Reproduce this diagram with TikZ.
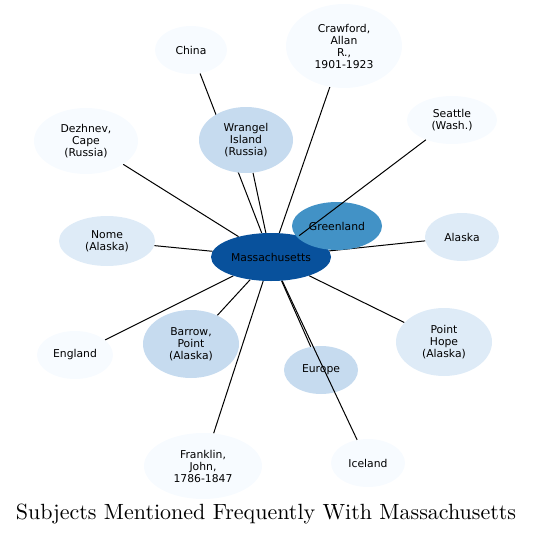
\documentclass[tikz,border=0pt]{standalone}
\usepackage{fontspec}
\setsansfont{DejaVu Sans}
\newfontfamily\titlefont{lmroman10-regular.otf}
\usepackage{tikz}
\usetikzlibrary{shapes.geometric, backgrounds}
\usepackage{xcolor}

\definecolor{hubblue}{RGB}{8,81,156}
\definecolor{midblue}{RGB}{66,146,198}
\definecolor{paleblue}{RGB}{198,219,239}
\definecolor{lightblue}{RGB}{222,235,247}
\definecolor{faintblue}{RGB}{247,251,255}

\begin{document}
\begin{tikzpicture}[
    x=1pt, y=-1pt,
    subject/.style={ellipse, draw=none, inner sep=0pt, align=center, text=black,
        font=\sffamily\fontsize{10.8}{12}\selectfont},
    link/.style={black, line width=1pt}
]
\useasboundingbox (0,0) rectangle (533,535);

% Hub
\node[subject, fill=hubblue, minimum width=120, minimum height=48] (mass) at (271,257) {Massachusetts};

% Ring of subjects
\node[subject, fill=midblue, minimum width=90, minimum height=48] (greenland) at (337,226) {Greenland};
\node[subject, fill=paleblue, minimum width=94, minimum height=66] (wrangel) at (246,140) {Wrangel\\Island\\(Russia)};
\node[subject, fill=faintblue, minimum width=72, minimum height=48] (china) at (191,50) {China};
\node[subject, fill=faintblue, minimum width=116, minimum height=84] (crawford) at (344,46) {Crawford,\\Allan\\R.,\\1901-1923};
\node[subject, fill=faintblue, minimum width=90, minimum height=48] (seattle) at (452,120) {Seattle\\(Wash.)};
\node[subject, fill=faintblue, minimum width=104, minimum height=66] (dezhnev) at (86,141) {Dezhnev,\\Cape\\(Russia)};
\node[subject, fill=lightblue, minimum width=96, minimum height=50] (nome) at (107,241) {Nome\\(Alaska)};
\node[subject, fill=lightblue, minimum width=74, minimum height=48] (alaska) at (462,237) {Alaska};
\node[subject, fill=lightblue, minimum width=96, minimum height=68] (pointhope) at (444,342) {Point\\Hope\\(Alaska)};
\node[subject, fill=faintblue, minimum width=76, minimum height=48] (england) at (75,355) {England};
\node[subject, fill=paleblue, minimum width=96, minimum height=68] (barrow) at (191,344) {Barrow,\\Point\\(Alaska)};
\node[subject, fill=paleblue, minimum width=74, minimum height=48] (europe) at (321,370) {Europe};
\node[subject, fill=faintblue, minimum width=118, minimum height=66] (franklin) at (203,466) {Franklin,\\John,\\1786-1847};
\node[subject, fill=faintblue, minimum width=74, minimum height=48] (iceland) at (368,463) {Iceland};

% Links behind the nodes
\begin{pgfonlayer}{background}
\foreach \target in {wrangel, china, crawford, dezhnev, nome, alaska, pointhope, england, barrow, europe, franklin}
    \draw[link] (mass) -- (\target);
\end{pgfonlayer}

% Links drawn over the nodes
\draw[link] (mass) -- (seattle);
\draw[link] (mass) -- (iceland);

% Title
\node[font=\titlefont\fontsize{22}{25}\selectfont] (title) at (266,514) {Subjects Mentioned Frequently With Massachusetts};

\end{tikzpicture}
\end{document}
